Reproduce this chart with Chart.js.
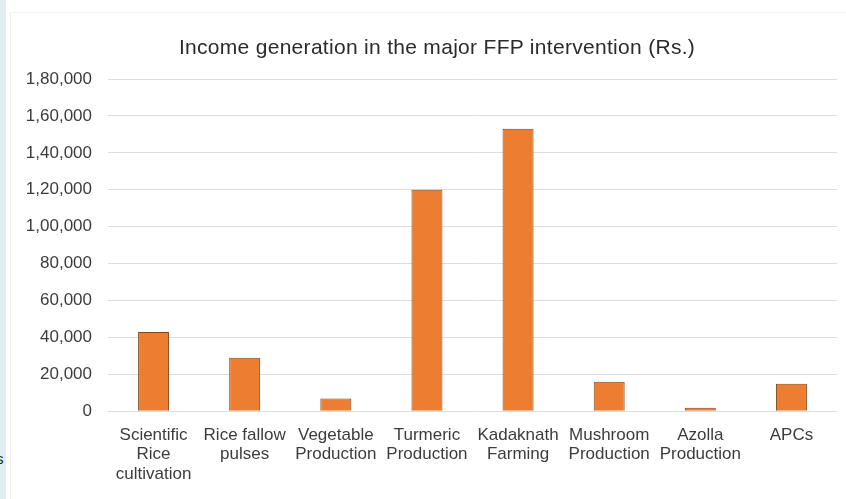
<!DOCTYPE html>
<html>
<head>
<meta charset="utf-8">
<script src="https://cdn.jsdelivr.net/npm/chart.js@4/dist/chart.umd.min.js"></script>
<style>
  html, body { margin: 0; padding: 0; background: #ffffff; }
  #wrap { position: relative; width: 846px; height: 499px; overflow: hidden; background: #ffffff; }
  #strip { position: absolute; left: 0; top: 0; width: 6px; height: 499px; background: #e1edf0; }
  #panel { position: absolute; left: 10px; top: 12px; width: 840px; height: 490px; border-left: 1px solid #eeeeee; border-top: 1px solid #f2f2f2; }
  #mark { position: absolute; left: -4px; top: 450px; font: 15px "Liberation Sans", Arial, sans-serif; color: #222; }
  #title { position: absolute; left: 437px; top: 35px; transform: translateX(-50%); white-space: nowrap;
           font: 21px/24px "Liberation Sans", Arial, sans-serif; letter-spacing: 0.3px; color: #2b2b2b; }
  canvas { position: absolute; left: 0; top: 0; }
</style>
</head>
<body>
<div id="wrap">
  <div id="strip"></div>
  <div id="panel"></div>
  <div id="mark">s</div>
  <canvas id="c" width="846" height="499"></canvas>
  <div id="title"></div>
</div>
<script>
const chartTitle = 'Income generation in the major FFP intervention (Rs.)';
const categories = [
  ['Scientific', 'Rice', 'cultivation'],
  ['Rice fallow', 'pulses'],
  ['Vegetable', 'Production'],
  ['Turmeric', 'Production'],
  ['Kadaknath', 'Farming'],
  ['Mushroom', 'Production'],
  ['Azolla', 'Production'],
  ['APCs']
];
const incomeValues = [43000, 29000, 7000, 120000, 153000, 16000, 2000, 15000];
const yTickValues = [0, 20000, 40000, 60000, 80000, 100000, 120000, 140000, 160000, 180000];
const yTickLabels = ['0', '20,000', '40,000', '60,000', '80,000', '1,00,000', '1,20,000', '1,40,000', '1,60,000', '1,80,000'];

document.getElementById('title').textContent = chartTitle;

const fontFamily = '"Liberation Sans", Arial, sans-serif';

new Chart(document.getElementById('c'), {
  type: 'bar',
  data: {
    labels: categories,
    datasets: [{
      data: incomeValues,
      backgroundColor: '#ED7D31',
      borderColor: '#84461c',
      borderWidth: 1,
      categoryPercentage: 1,
      barPercentage: 0.34
    }]
  },
  options: {
    responsive: false,
    animation: false,
    layout: { padding: { left: 20, right: 9, top: 79, bottom: 1 } },
    plugins: {
      legend: { display: false },
      tooltip: { enabled: false },
      title: { display: false }
    },
    scales: {
      x: {
        grid: { display: false, drawTicks: false },
        border: { display: false },
        ticks: {
          color: '#3c3c3c',
          font: { family: fontFamily, size: 17, lineHeight: 1.15 },
          padding: 14,
          maxRotation: 0,
          autoSkip: false
        }
      },
      y: {
        min: 0,
        max: 180000,
        afterBuildTicks: (scale) => { scale.ticks = yTickValues.map(v => ({ value: v })); },
        afterFit: (scale) => { scale.width = 88; },
        grid: { color: '#dcdcdc', lineWidth: 1, drawTicks: false },
        border: { display: false },
        ticks: {
          color: '#3c3c3c',
          font: { family: fontFamily, size: 17 },
          padding: 16,
          callback: (value) => {
            const i = yTickValues.indexOf(value);
            return i >= 0 ? yTickLabels[i] : '';
          }
        }
      }
    }
  }
});
</script>
</body>
</html>
